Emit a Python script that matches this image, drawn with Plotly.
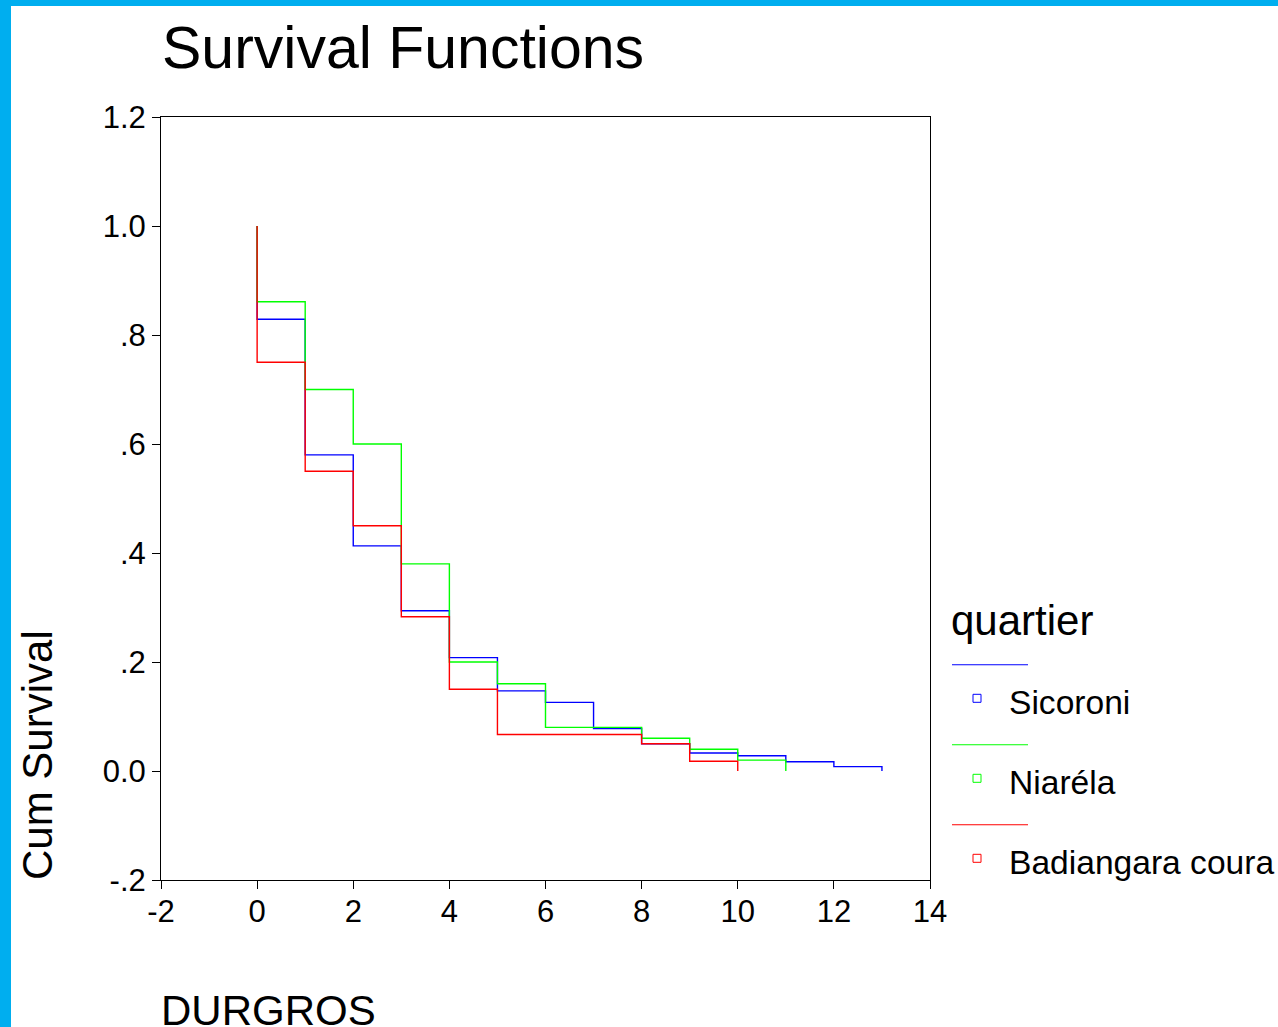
import plotly.graph_objects as go

# ---- data ----
categories = ["Sicoroni", "Niaréla", "Badiangara coura"]
colors = ["#0000FF", "#00FF00", "#FF0000"]

sicoroni_t = [0, 0, 1, 2, 3, 4, 5, 6, 7, 8, 9, 10, 11, 12, 13]
sicoroni_s = [1.0, 0.829, 0.58, 0.413, 0.294, 0.208, 0.147, 0.126, 0.078, 0.05, 0.033, 0.028, 0.017, 0.008, 0.0]

niarela_t = [0, 0, 1, 2, 3, 4, 5, 6, 7, 8, 9, 10, 11]
niarela_s = [1.0, 0.861, 0.70, 0.60, 0.38, 0.20, 0.16, 0.08, 0.08, 0.06, 0.04, 0.02, 0.0]

badiangara_t = [0, 0, 1, 2, 3, 4, 5, 6, 7, 8, 9, 10]
badiangara_s = [1.0, 0.75, 0.55, 0.45, 0.283, 0.15, 0.067, 0.067, 0.067, 0.05, 0.018, 0.0]

x_tickvals = [-2, 0, 2, 4, 6, 8, 10, 12, 14]
x_ticktext = ["-2", "0", "2", "4", "6", "8", "10", "12", "14"]
y_tickvals = [-0.2, 0.0, 0.2, 0.4, 0.6, 0.8, 1.0, 1.2]
y_ticktext = ["-.2", "0.0", ".2", ".4", ".6", ".8", "1.0", "1.2"]

title_text = "Survival Functions"
x_title = "DURGROS"
y_title = "Cum Survival"
legend_title = "quartier"

# ---- layout geometry (pixels) ----
W, H = 1278, 1027
ML, MR, MT, MB = 161, 348, 117, 147
PW = W - ML - MR
PH = H - MT - MB
FONT = "Liberation Sans, Arial, sans-serif"


def px(x):
    return (x - ML) / PW


def py(y):
    return (H - MB - y) / PH


fig = go.Figure()
series = [(sicoroni_t, sicoroni_s), (niarela_t, niarela_s), (badiangara_t, badiangara_s)]
for (t, s), name, c in zip(series, categories, colors):
    fig.add_trace(go.Scatter(x=t, y=s, mode="lines", name=name,
                             line=dict(color=c, width=1.4, shape="hv"),
                             showlegend=False, hoverinfo="skip"))

shapes = []
annotations = []

# light-blue page border (top and left)
shapes.append(dict(type="rect", xref="paper", yref="paper",
                   x0=px(0), x1=px(W), y0=py(6), y1=py(0),
                   fillcolor="#00AEEF", line=dict(width=0), layer="above"))
shapes.append(dict(type="rect", xref="paper", yref="paper",
                   x0=px(0), x1=px(11), y0=py(H), y1=py(0),
                   fillcolor="#00AEEF", line=dict(width=0), layer="above"))

# legend drawn as decorations
for i, (name, c) in enumerate(zip(categories, colors)):
    ly = 664.7 + 80 * i
    shapes.append(dict(type="line", xref="paper", yref="paper",
                       x0=px(952), x1=px(1028), y0=py(ly), y1=py(ly),
                       line=dict(color=c, width=1.1)))
    my = 698.3 + 80 * i
    shapes.append(dict(type="rect", xref="paper", yref="paper",
                       x0=px(973), x1=px(981), y0=py(my + 4), y1=py(my - 4),
                       line=dict(color=c, width=1), fillcolor="rgba(0,0,0,0)"))
    annotations.append(dict(text=name, xref="paper", yref="paper",
                            x=px(1007), y=py(702 + 80 * i), xanchor="left", yanchor="middle",
                            showarrow=False, font=dict(family=FONT, size=33.6, color="black")))

annotations.append(dict(text=legend_title, xref="paper", yref="paper",
                        x=px(949), y=py(620), xanchor="left", yanchor="middle",
                        showarrow=False, font=dict(family=FONT, size=42, color="black")))
annotations.append(dict(text=title_text, xref="paper", yref="paper",
                        x=px(160), y=py(48), xanchor="left", yanchor="middle",
                        showarrow=False, font=dict(family=FONT, size=59, color="black")))
annotations.append(dict(text=x_title, xref="paper", yref="paper",
                        x=px(159), y=py(1010), xanchor="left", yanchor="middle",
                        showarrow=False, font=dict(family=FONT, size=42, color="black")))
annotations.append(dict(text=y_title, xref="paper", yref="paper",
                        x=px(37), y=py(755), xanchor="center", yanchor="middle",
                        textangle=-90,
                        showarrow=False, font=dict(family=FONT, size=42, color="black")))

fig.update_layout(
    width=W, height=H,
    margin=dict(l=ML, r=MR, t=MT, b=MB, pad=0),
    paper_bgcolor="white", plot_bgcolor="white",
    font=dict(family=FONT, color="black"),
    shapes=shapes, annotations=annotations,
    showlegend=False,
)
fig.update_xaxes(range=[-2, 14], tickvals=x_tickvals, ticktext=x_ticktext,
                 ticks="outside", ticklen=8, ticklabelstandoff=-4,
                 tickcolor="black", tickwidth=1, showline=True, linecolor="black",
                 linewidth=1, mirror=True, showgrid=False, zeroline=False,
                 tickfont=dict(family=FONT, size=31, color="black"))
fig.update_yaxes(range=[-0.2, 1.2], tickvals=y_tickvals, ticktext=y_ticktext,
                 ticks="outside", ticklen=8, tickcolor="black", tickwidth=1,
                 showline=True, linecolor="black", linewidth=1, mirror=True,
                 showgrid=False, zeroline=False,
                 tickfont=dict(family=FONT, size=31, color="black"))

fig.write_html("out.html", config={"displayModeBar": False},
               post_script="document.body.style.margin='0';document.body.style.overflow='hidden';")
